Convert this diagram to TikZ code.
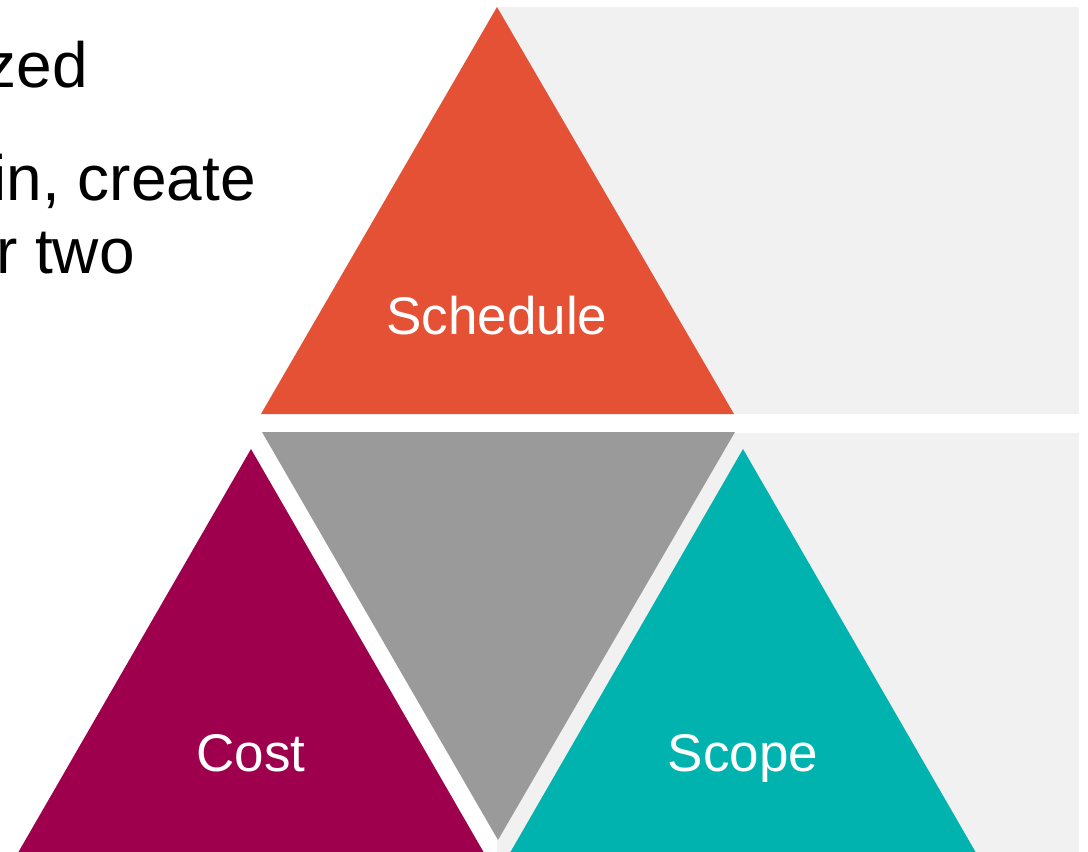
\documentclass[tikz,border=0pt]{standalone}
\usepackage{fontspec}
\setmainfont{Liberation Sans}
\definecolor{schedcol}{HTML}{E45134}
\definecolor{costcol}{HTML}{9E004D}
\definecolor{scopecol}{HTML}{00B3AF}
\definecolor{midcol}{HTML}{9A9A9A}
\definecolor{panelcol}{HTML}{F1F1F1}
\tikzset{
  bodytext/.style={inner sep=0pt, anchor=base east, font=\fontsize{64}{74}\selectfont, text=black},
  trilabel/.style={inner sep=0pt, anchor=base, font=\fontsize{53}{62}\selectfont, text=white}
}
\begin{document}
\begin{tikzpicture}[x=1pt,y=-1pt]
\useasboundingbox (0,0) rectangle (1088,852);
\clip (0,0) rectangle (1088,852);
\fill[white] (0,0) rectangle (1088,852);
% light panels behind the triangles
\fill[panelcol] (497,7) rectangle (1079,414);
\fill[panelcol] (497,433) rectangle (1079,852);
% triangles
\fill[schedcol] (497,7) -- (734,414) -- (261,414) -- cycle;
\fill[midcol] (262,432) -- (735,432) -- (498,840) -- cycle;
\fill[costcol] (251,449) -- (487,858) -- (15,858) -- cycle;
\fill[scopecol] (743,449) -- (979,858) -- (507,858) -- cycle;
% labels
\node[trilabel] (schedule) at (497,334) {Schedule};
\node[trilabel] (cost) at (251,771) {Cost};
\node[trilabel] (scope) at (743,771) {Scope};
% body text
\node[bodytext] (line1) at (88,87) {zed};
\node[bodytext] (line2) at (256,200) {in, create};
\node[bodytext] (line3) at (135,273) {r two};
\end{tikzpicture}
\end{document}
